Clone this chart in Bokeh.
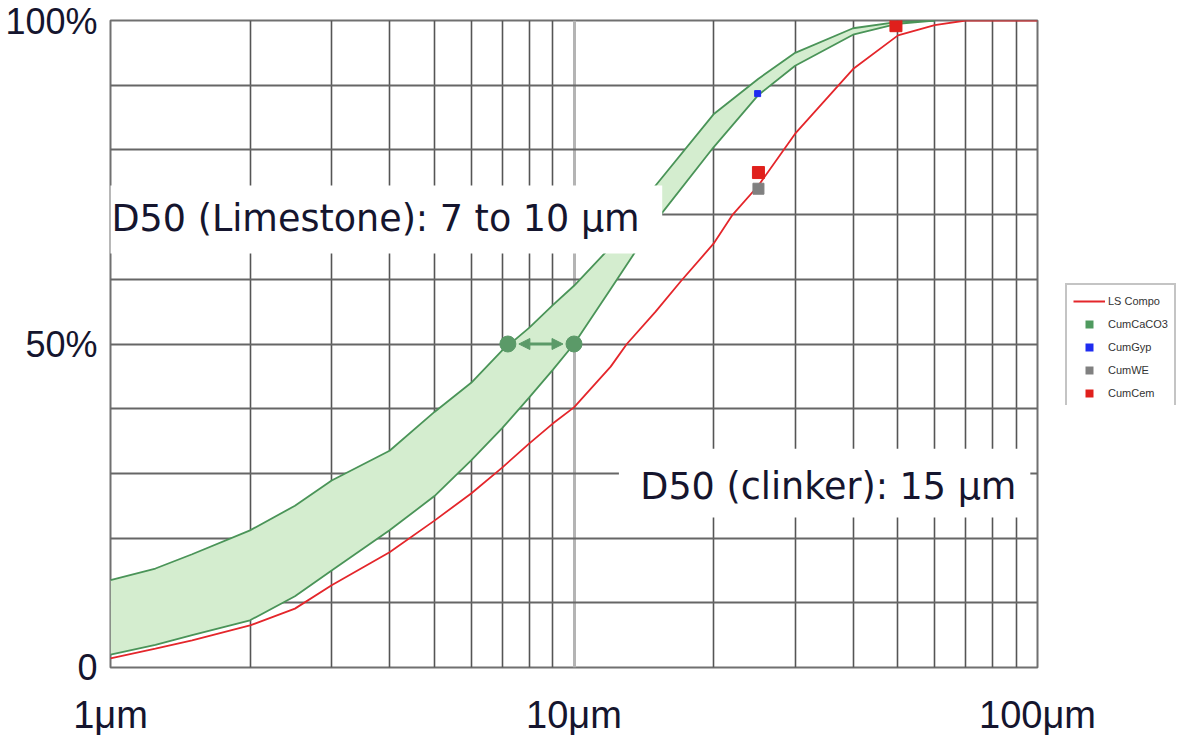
from bokeh.plotting import figure
from bokeh.layouts import row, column
from bokeh.models import (FixedTicker, Label, BoxAnnotation, Arrow, NormalHead,
                          Legend, LegendItem, Spacer, Range1d)
from bokeh.embed import file_html
from bokeh.resources import INLINE

# ---------------- data ----------------
# limestone band: particle size (um) vs cumulative passing (%)
ls_sizes = [1, 1.25, 1.5, 2, 2.5, 3, 4, 5, 6, 7, 8, 9, 10, 12, 15, 20, 25, 30, 40, 50, 60]
ls_fine = [13.5, 15.3, 17.5, 21.2, 25, 28.9, 33.5, 39.5, 44, 49, 52.5, 56, 59, 65, 74.5,
           85.5, 91, 95, 98.8, 99.8, 100]
ls_coarse = [2, 3.5, 5, 7.3, 11, 15, 21.2, 26.5, 32, 37, 41.7, 46, 50, 58.5, 69,
             80.4, 88.5, 93, 97.8, 99.5, 100]

# clinker / LS composite curve
cmp_sizes = [1, 1.25, 1.5, 2, 2.5, 3, 4, 5, 6, 7, 8, 9, 10, 12, 13, 15, 17, 20, 22, 25,
             30, 40, 50, 60, 70, 80, 100]
cmp_vals = [1.4, 2.9, 4.2, 6.5, 9.1, 12.7, 17.8, 22.7, 26.9, 30.9, 34.6, 37.7, 40.2, 46.5,
            50, 55, 59.7, 65.5, 70, 74.5, 82.5, 92.5, 97.7, 99.3, 100, 100, 100]

# single points
cem_x = [25, 49.5]
cem_y = [76.5, 99.2]
we_x = [25]
we_y = [74]
gyp_x = [24.9]
gyp_y = [88.7]

# D50 of limestone (um)
d50_ls = [7.2, 10]
d50_level = 50

legend_labels = ["LS Compo", "CumCaCO3", "CumGyp", "CumWE", "CumCem"]
x_tick_labels = {1: "1\u03bcm", 10: "10\u03bcm", 100: "100\u03bcm"}
y_tick_labels = {0: "0", 50: "50%", 100: "100%"}
text_limestone = "D50 (Limestone): 7 to 10 \u03bcm"
text_clinker = "D50 (clinker): 15 \u03bcm"

# ---------------- colours ----------------
GREEN_FILL = "#d4edcf"
GREEN_LINE = "#4a9458"
GREEN_DARK = "#5b9a68"
GREEN_SQ = "#4f9a5f"
BLUE = "#1f2cf0"
GRAY = "#808080"
RED_SQ = "#e0201c"
RED = "#e4262b"
TXT = "#15152e"

p = figure(frame_width=927, frame_height=647, x_axis_type="log", x_range=(1, 100), y_range=(0, 100),
           output_backend="svg", toolbar_location=None,
           min_border_left=110, min_border_right=62, min_border_top=20, min_border_bottom=68,
           background_fill_color="white", border_fill_color="white",
           outline_line_color="#707070", outline_line_width=2)

# axes / grid
p.xaxis.ticker = FixedTicker(ticks=[1, 10, 100],
                             minor_ticks=[2, 3, 4, 5, 6, 7, 8, 9, 20, 30, 40, 50, 60, 70, 80, 90])
p.yaxis.ticker = FixedTicker(ticks=[0, 50, 100], minor_ticks=[10, 20, 30, 40, 60, 70, 80, 90])
p.xaxis.major_label_overrides = x_tick_labels
p.yaxis.major_label_overrides = y_tick_labels
for ax in (p.xaxis, p.yaxis):
    ax.axis_line_color = None
    ax.major_tick_line_color = None
    ax.minor_tick_line_color = None
    ax.major_label_text_font = "Liberation Sans"
    ax.major_label_text_color = TXT
p.xaxis.major_label_text_font_size = "38px"
p.yaxis.major_label_text_font_size = "36px"
p.xaxis.major_label_standoff = 20
p.yaxis.major_label_standoff = 7

p.xgrid.grid_line_color = "#b4b4b4"
p.xgrid.grid_line_width = 3
p.xgrid.minor_grid_line_color = "#555555"
p.xgrid.minor_grid_line_width = 1.6
p.ygrid.grid_line_color = "#666666"
p.ygrid.grid_line_width = 1.8
p.ygrid.minor_grid_line_color = "#666666"
p.ygrid.minor_grid_line_width = 1.8

# limestone band
p.varea(x=ls_sizes, y1=ls_coarse, y2=ls_fine, fill_color=GREEN_FILL)
p.line(ls_sizes, ls_fine, line_color=GREEN_LINE, line_width=1.8)
p.line(ls_sizes, ls_coarse, line_color=GREEN_LINE, line_width=1.8)

# composite curve
p.line(cmp_sizes, cmp_vals, line_color=RED, line_width=1.8)

# points
p.scatter(gyp_x, gyp_y, marker="square", size=6, color=BLUE)
p.scatter(we_x, we_y, marker="square", size=11, color=GRAY)
p.scatter(cem_x, cem_y, marker="square", size=12, color=RED_SQ)

# white boxes behind the annotations
p.add_layout(BoxAnnotation(left=0.93, right=15.5, bottom=64, top=74.5,
                           fill_color="white", fill_alpha=1, line_color=None))
p.add_layout(BoxAnnotation(left=12.5, right=96.5, bottom=23.2, top=33.8,
                           fill_color="white", fill_alpha=1, line_color=None))

p.add_layout(Label(x=1.005, y=69.4, text=text_limestone, text_font="DejaVu Sans",
                   text_font_size="36.5px", text_color=TXT, text_baseline="middle"))
p.add_layout(Label(x=13.9, y=27.9, text=text_clinker, text_font="DejaVu Sans",
                   text_font_size="36.5px", text_color=TXT, text_baseline="middle"))

# D50 arrow for limestone
off = 10 ** (11 / 463.5)
p.add_layout(Arrow(x_start=d50_ls[0] * off, y_start=d50_level, x_end=d50_ls[1] / off, y_end=d50_level,
                   line_color=GREEN_DARK, line_width=3,
                   start=NormalHead(size=11, fill_color=GREEN_DARK, line_color=GREEN_DARK),
                   end=NormalHead(size=11, fill_color=GREEN_DARK, line_color=GREEN_DARK)))
p.scatter(d50_ls, [d50_level] * len(d50_ls), marker="circle", size=16, color=GREEN_DARK)

# ---------------- legend (separate small figure at the right) ----------------
lf = figure(width=136, height=124, output_backend="svg", toolbar_location=None,
            x_range=Range1d(-10, -9), y_range=Range1d(-10, -9),
            min_border=0, outline_line_color=None,
            background_fill_color="white", border_fill_color="white")
lf.axis.visible = False
lf.grid.visible = False
l_cmp = lf.line(cmp_sizes, cmp_vals, line_color=RED, line_width=1.8)
l_caco3 = lf.scatter(d50_ls, [d50_level] * len(d50_ls), marker="square", fill_color=GREEN_SQ, line_color=None)
l_gyp = lf.scatter(gyp_x, gyp_y, marker="square", fill_color=BLUE, line_color=None)
l_we = lf.scatter(we_x, we_y, marker="square", fill_color=GRAY, line_color=None)
l_cem = lf.scatter(cem_x, cem_y, marker="square", fill_color=RED_SQ, line_color=None)

legend = Legend(items=[LegendItem(label=legend_labels[0], renderers=[l_cmp]),
                       LegendItem(label=legend_labels[1], renderers=[l_caco3]),
                       LegendItem(label=legend_labels[2], renderers=[l_gyp]),
                       LegendItem(label=legend_labels[3], renderers=[l_we]),
                       LegendItem(label=legend_labels[4], renderers=[l_cem])],
                location="top_left", orientation="vertical",
                label_text_font="Liberation Sans", label_text_font_size="11px",
                label_text_color="#333333", glyph_width=32, glyph_height=20,
                label_height=20, label_standoff=3, spacing=3, padding=6, margin=2,
                border_line_color="#8a8a8a", border_line_width=2,
                background_fill_color="white", background_fill_alpha=1)
lf.add_layout(legend)

side = column(Spacer(width=136, height=281), lf)
side.styles = {"margin-left": "-36px"}
layout = row(p, side)

open("out.html", "w").write(file_html(layout, INLINE))
